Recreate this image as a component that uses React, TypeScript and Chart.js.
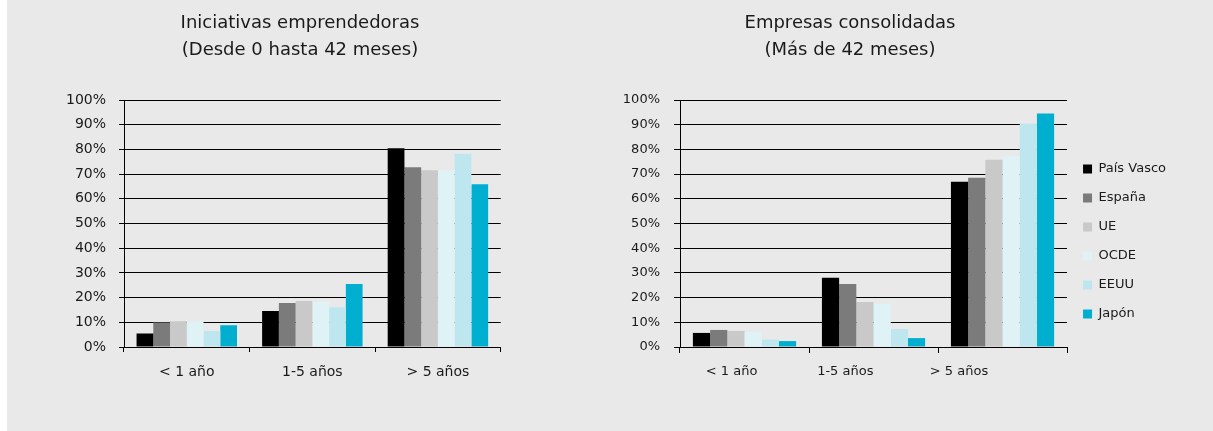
import React, { useEffect, useRef } from 'react';
import { Chart, registerables } from 'chart.js';

Chart.register(...registerables);

// ---- Data ----
const categories = ['< 1 año', '1-5 años', '> 5 años'];
const seriesNames = ['País Vasco', 'España', 'UE', 'OCDE', 'EEUU', 'Japón'];
const seriesColors = ['#000000', '#7b7b7b', '#c9c9c9', '#dff2f6', '#bde6ef', '#00afd0'];
const yTickValues = [0, 10, 20, 30, 40, 50, 60, 70, 80, 90, 100];

const titleIniciativas = ['Iniciativas emprendedoras', '(Desde 0 hasta 42 meses)'];
const titleConsolidadas = ['Empresas consolidadas', '(Más de 42 meses)'];

// Iniciativas emprendedoras (0-42 meses), % per category
const inicPaisVasco = [5.5, 14.6, 80.5];
const inicEspana = [9.9, 17.8, 72.8];
const inicUE = [10.4, 18.6, 71.6];
const inicOCDE = [10.2, 18.2, 71.6];
const inicEEUU = [6.5, 16.1, 78.2];
const inicJapon = [8.8, 25.5, 65.9];

// Empresas consolidadas (> 42 meses), % per category
const consPaisVasco = [5.7, 28.0, 66.9];
const consEspana = [6.9, 25.5, 68.5];
const consUE = [6.5, 18.2, 75.8];
const consOCDE = [6.2, 17.6, 77.2];
const consEEUU = [3.0, 7.3, 90.4];
const consJapon = [2.4, 3.6, 94.5];

const inicSeries = [inicPaisVasco, inicEspana, inicUE, inicOCDE, inicEEUU, inicJapon];
const consSeries = [consPaisVasco, consEspana, consUE, consOCDE, consEEUU, consJapon];

const FONT = 'DejaVu Sans';
const TEXT = '#1a1a1a';

function makeDatasets(series: number[][]) {
  return seriesNames.map((name, i) => ({
    label: name,
    data: series[i],
    backgroundColor: seriesColors[i],
    borderWidth: 0,
    barPercentage: 1,
    categoryPercentage: 0.8,
  }));
}

function yScale(fontSize: number, tickLen: number, pad: number, width: number) {
  return {
    type: 'linear',
    min: 0,
    max: 100,
    afterBuildTicks: (s: any) => {
      s.ticks = yTickValues.map((v) => ({ value: v }));
    },
    ticks: {
      callback: (v: any) => v + '%',
      font: { family: FONT, size: fontSize },
      color: TEXT,
      padding: pad,
    },
    grid: { color: '#000', lineWidth: 1, tickLength: tickLen },
    border: { display: true, color: '#000', width: 1 },
    afterFit: (s: any) => {
      s.width = width;
    },
  };
}

function leftConfig(): any {
  return {
    type: 'bar',
    data: { labels: categories, datasets: makeDatasets(inicSeries) },
    options: {
      responsive: false,
      animation: false,
      devicePixelRatio: 1,
      events: [],
      plugins: {
        legend: { display: false },
        tooltip: { enabled: false },
        title: {
          display: true,
          text: titleIniciativas,
          color: TEXT,
          font: { family: FONT, size: 18, weight: 'normal', lineHeight: 1.5 },
          padding: { top: 10, bottom: 36 },
        },
      },
      scales: {
        x: {
          type: 'category',
          offset: true,
          grid: { offset: true, drawOnChartArea: false, drawTicks: true, tickLength: 5, color: '#000', lineWidth: 1 },
          border: { display: true, color: '#000', width: 1 },
          ticks: { font: { family: FONT, size: 14 }, color: TEXT, padding: 12, maxRotation: 0 },
          afterFit: (s: any) => {
            s.height = 84;
          },
        },
        y: yScale(14, 5, 13, 124),
        yPad: {
          type: 'linear',
          axis: 'y',
          position: 'right',
          display: true,
          grid: { display: false, drawTicks: false },
          border: { display: false },
          ticks: { display: false },
          afterFit: (s: any) => {
            s.width = 99.3;
          },
        },
      },
    },
  };
}

function rightConfig(): any {
  return {
    type: 'bar',
    data: { labels: categories, datasets: makeDatasets(consSeries) },
    options: {
      responsive: false,
      animation: false,
      devicePixelRatio: 1,
      events: [],
      plugins: {
        legend: {
          display: true,
          position: 'right',
          align: 'center',
          labels: {
            boxWidth: 9,
            boxHeight: 9,
            padding: 16,
            color: TEXT,
            font: { family: FONT, size: 13 },
          },
        },
        tooltip: { enabled: false },
        title: {
          display: true,
          text: titleConsolidadas,
          color: TEXT,
          font: { family: FONT, size: 18, weight: 'normal', lineHeight: 1.5 },
          padding: { top: 10, bottom: 36 },
        },
      },
      scales: {
        x: {
          type: 'category',
          offset: true,
          weight: 0,
          grid: { offset: true, drawOnChartArea: false, drawTicks: true, tickLength: 6, color: '#000', lineWidth: 1 },
          border: { display: true, color: '#000', width: 1 },
          ticks: { display: false },
        },
        x2: {
          type: 'linear',
          axis: 'x',
          position: 'bottom',
          weight: 1,
          offset: false,
          min: -0.4536,
          max: 2.95,
          afterBuildTicks: (s: any) => {
            s.ticks = categories.map((_, i) => ({ value: i }));
          },
          ticks: {
            callback: (_v: any, i: number) => categories[i],
            font: { family: FONT, size: 13 },
            color: TEXT,
            padding: 11,
            maxRotation: 0,
            autoSkip: false,
          },
          grid: { display: false, drawTicks: false, offset: false },
          border: { display: false },
          afterFit: (s: any) => {
            s.height = 130;
          },
        },
        y: yScale(13, 6, 14, 156),
      },
    },
  };
}

function ChartCanvas({ config, left, width, height }: { config: () => any; left: number; width: number; height: number }) {
  const ref = useRef<HTMLCanvasElement>(null);
  useEffect(() => {
    if (!ref.current) return;
    const chart = new Chart(ref.current, config());
    return () => chart.destroy();
  }, [config]);
  return (
    <canvas
      ref={ref}
      width={width}
      height={height}
      style={{ position: 'absolute', left, top: 0, width, height, display: 'block' }}
    />
  );
}

export default function App() {
  return (
    <div style={{ position: 'absolute', left: 0, top: 0, width: 1213, height: 431, overflow: 'hidden', background: '#ffffff' }}>
      <div style={{ position: 'absolute', left: 7, top: 0, width: 1206, height: 431, background: '#e9e9e9' }} />
      <ChartCanvas config={leftConfig} left={0} width={600} height={431} />
      <ChartCanvas config={rightConfig} left={524} width={652} height={483} />
    </div>
  );
}
